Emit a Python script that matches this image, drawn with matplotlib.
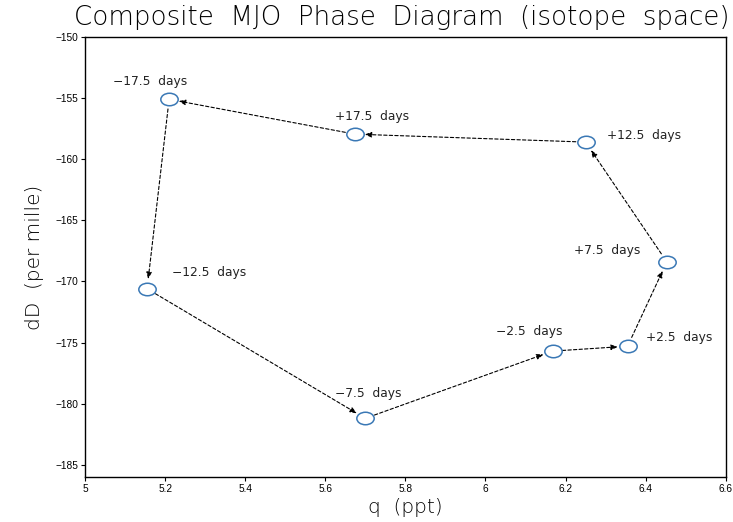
import matplotlib
matplotlib.use("Agg")
import matplotlib.pyplot as plt
import numpy as np
from matplotlib.path import Path
from matplotlib.transforms import Affine2D

labels = ["\u221217.5  days", "\u221212.5  days", "\u22127.5  days", "\u22122.5  days",
          "+2.5  days", "+7.5  days", "+12.5  days", "+17.5  days"]
q = [5.21, 5.155, 5.70, 6.168, 6.355, 6.453, 6.25, 5.674]
dD = [-155.1, -170.6, -181.2, -175.7, -175.3, -168.4, -158.6, -157.95]
# label offsets in points (dx, dy)
offsets = [(-14, 13), (45, 12), (2, 18), (-17, 14), (37, 6.5), (-43, 8), (42, 5), (12, 13)]

plt.rcParams['font.family'] = ['Liberation Sans', 'DejaVu Sans']
fig = plt.figure(figsize=(7.33, 5.22), dpi=100)
ax = fig.add_axes([0.116, 0.0862, 0.874, 0.843])

ell = Path.unit_circle().transformed(Affine2D().scale(1.0, 0.72))

n = len(q)
for i in range(n):
    j = (i + 1) % n
    ax.annotate("", xy=(q[j], dD[j]), xytext=(q[i], dD[i]),
                arrowprops=dict(arrowstyle="-|>,head_length=0.4,head_width=0.16",
                                linestyle=(0, (3.0, 2.0)), color="black", lw=0.8,
                                shrinkA=7, shrinkB=7))

ax.plot(q, dD, linestyle="none", marker=ell, markersize=12.5, markerfacecolor="white",
        markeredgecolor="#3a78b5", markeredgewidth=1.1, zorder=3)

for x, y, t, (dx, dy) in zip(q, dD, labels, offsets):
    ax.annotate(t, xy=(x, y), xytext=(dx, dy), textcoords="offset points",
                ha="center", va="center", fontsize=8.8, color="#222222",
                family=['DejaVu Sans'])

ax.set_xlim(5, 6.6)
ax.set_ylim(-186, -150)
ax.set_xticks(np.arange(5, 6.61, 0.2))
ax.set_xticklabels(["5", "5.2", "5.4", "5.6", "5.8", "6", "6.2", "6.4", "6.6"])
ax.set_yticks(np.arange(-185, -149, 5))
ax.set_yticklabels(["\u2212%d" % abs(v) for v in np.arange(-185, -149, 5)])
ax.tick_params(direction="out", length=3, width=0.8, labelsize=7.3, pad=2)
for s in ax.spines.values():
    s.set_linewidth(1.0)
ax.set_xlabel("q  (ppt)", fontsize=14.5, labelpad=3, family=['DejaVu Sans'],
              color="#000000", fontweight='light')
ax.set_ylabel("dD  (per mille)", fontsize=14.5, labelpad=8, family=['DejaVu Sans'],
              color="#000000", fontweight='light')
fig.text(0.548, 0.967, "Composite  MJO  Phase  Diagram  (isotope  space)", ha="center", va="center",
         fontsize=18.8, color="#000000", family=['DejaVu Sans'], fontweight='light')

fig.savefig("out.png", dpi=100)
